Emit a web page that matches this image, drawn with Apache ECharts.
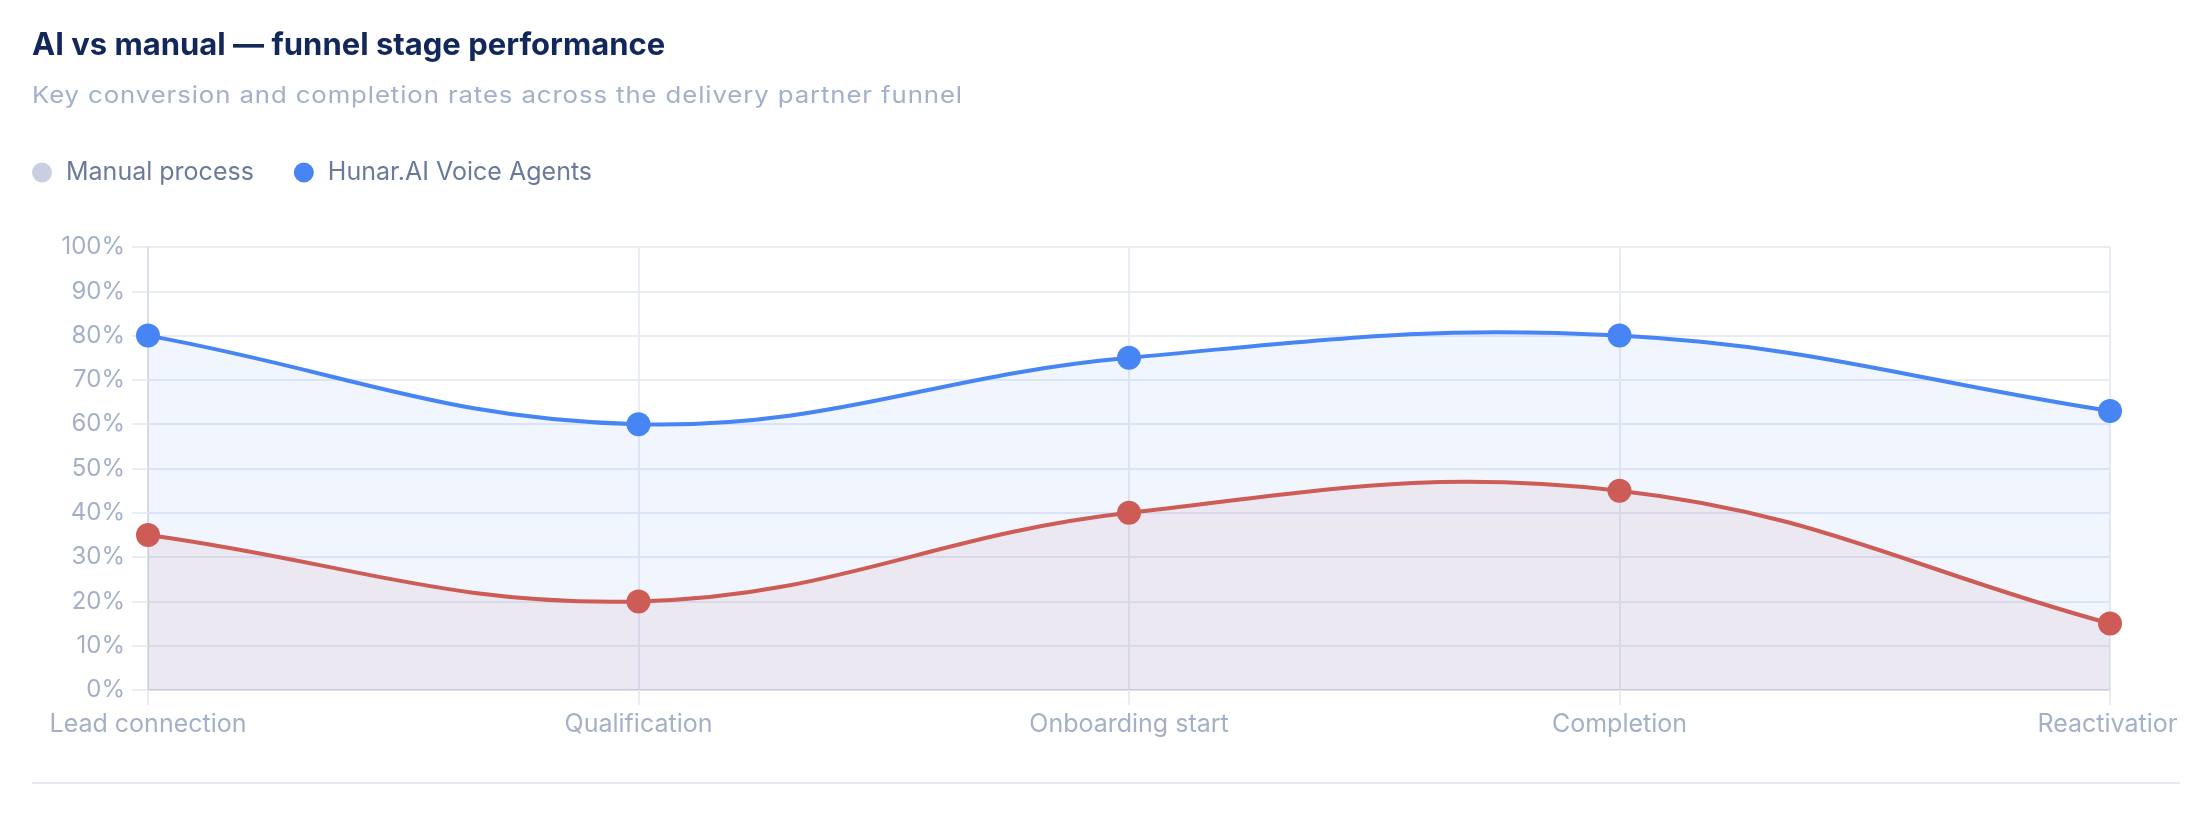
<!DOCTYPE html>
<html>
<head>
<meta charset="utf-8">
<script src="https://cdn.jsdelivr.net/npm/echarts@6/dist/echarts.min.js"></script>
<style>
html,body{margin:0;padding:0;background:#fff;}
#chart{position:absolute;left:32px;top:0;width:2145px;height:814px;overflow:hidden;}
#subtitle{position:absolute;left:32px;top:84px;margin:0;font-family:Inter,"Noto Sans",sans-serif;
  font-size:23px;line-height:23px;letter-spacing:0.8px;color:#a3b0ca;white-space:nowrap;z-index:2;
  transform:scaleX(1.12);transform-origin:0 50%;}
#sep{position:absolute;left:32px;top:782px;width:2148px;height:2px;background:#e4e9f2;z-index:2;}
</style>
</head>
<body>
<div id="chart"></div>
<p id="subtitle"></p>
<div id="sep"></div>
<script>
const titleText = 'AI vs manual — funnel stage performance';
const subtitleText = 'Key conversion and completion rates across the delivery partner funnel';
const categories = ['Lead connection', 'Qualification', 'Onboarding start', 'Completion', 'Reactivation'];
const manualName = 'Manual process';
const aiName = 'Hunar.AI Voice Agents';
const manualValues = [35, 20, 40, 45, 15];
const aiValues = [80, 60, 75, 80, 63];

document.getElementById('subtitle').textContent = subtitleText;

const FONT = 'Inter, "Noto Sans", sans-serif';
const TENSION = 0.4;

// Cardinal-style spline through pixel points (control points from neighbours)
function splinePath(pts, t) {
  const cps = pts.map((p, i) => {
    const prev = pts[i - 1] || p, next = pts[i + 1] || p;
    const d01 = Math.hypot(p[0] - prev[0], p[1] - prev[1]);
    const d12 = Math.hypot(next[0] - p[0], next[1] - p[1]);
    let s01 = d01 / (d01 + d12), s12 = d12 / (d01 + d12);
    if (isNaN(s01)) s01 = 0;
    if (isNaN(s12)) s12 = 0;
    const fa = t * s01, fb = t * s12;
    return {
      prev: [p[0] - fa * (next[0] - prev[0]), p[1] - fa * (next[1] - prev[1])],
      next: [p[0] + fb * (next[0] - prev[0]), p[1] + fb * (next[1] - prev[1])]
    };
  });
  let d = 'M' + pts[0][0] + ',' + pts[0][1];
  for (let i = 1; i < pts.length; i++) {
    d += ' C' + cps[i - 1].next.join(',') + ' ' + cps[i].prev.join(',') + ' ' + pts[i].join(',');
  }
  return d;
}

function curveSeries(name, values, color, areaColor, z) {
  return {
    name: name, type: 'custom', z: z, silent: true,
    data: values.map((v, i) => [i, v]),
    encode: {x: 0, y: 1},
    renderItem: function (params, api) {
      if (params.dataIndex !== 0) return null;
      const pts = values.map((v, i) => api.coord([i, v]));
      const base = api.coord([0, 0])[1];
      const line = splinePath(pts, TENSION);
      const area = line + ' L' + pts[pts.length - 1][0] + ',' + base + ' L' + pts[0][0] + ',' + base + ' Z';
      return {
        type: 'group',
        children: [
          {type: 'path', shape: {pathData: area}, style: {fill: areaColor, stroke: null}},
          {type: 'path', shape: {pathData: line}, style: {fill: null, stroke: color, lineWidth: 4}}
        ]
      };
    }
  };
}

function markerSeries(name, values, color) {
  return {
    name: name, type: 'line', data: values, z: 10,
    symbol: 'circle', symbolSize: 24,
    itemStyle: {color: color},
    lineStyle: {width: 0, opacity: 0}
  };
}

const chart = echarts.init(document.getElementById('chart'));
chart.setOption({
  backgroundColor: '#ffffff',
  animation: false,
  title: {text: titleText, left: 0, top: 30, padding: 0,
    textStyle: {fontFamily: FONT, fontSize: 31, fontWeight: 700, color: '#12275a'}},
  legend: {
    left: 0, top: 160, padding: 0, icon: 'circle', itemWidth: 20, itemHeight: 20, itemGap: 40,
    textStyle: {fontFamily: FONT, fontSize: 25, color: '#6b7a9b', padding: [0, 0, 0, 9]},
    data: [
      {name: manualName, itemStyle: {color: '#c8cfe0'}},
      {name: aiName, itemStyle: {color: '#4785f4'}}
    ]
  },
  grid: {left: 116, right: 67, top: 247, bottom: 124, containLabel: false, outerBoundsMode: 'none'},
  xAxis: {
    type: 'category', boundaryGap: false, data: categories,
    axisLine: {show: true, lineStyle: {color: '#d9dee9', width: 2}},
    axisTick: {show: true, length: 15, lineStyle: {color: '#e8edf5', width: 2}},
    axisLabel: {fontFamily: FONT, fontSize: 25, color: '#a3b0c8', margin: 22},
    splitLine: {show: true, lineStyle: {color: '#e8edf5', width: 2}}
  },
  yAxis: {
    type: 'value', min: 0, max: 100, interval: 10,
    axisLine: {show: true, lineStyle: {color: '#d9dee9', width: 2}},
    axisTick: {show: true, length: 16, lineStyle: {color: '#e8edf5', width: 2}},
    axisLabel: {fontFamily: FONT, fontSize: 24, color: '#a3b0c8', margin: 23, formatter: '{value}%'},
    splitLine: {show: true, lineStyle: {color: '#e8edf5', width: 2}}
  },
  series: [
    curveSeries(aiName, aiValues, '#4785f4', 'rgba(71,133,244,0.08)', 2),
    curveSeries(manualName, manualValues, '#cd5c56', 'rgba(178,95,104,0.08)', 3),
    markerSeries(aiName, aiValues, '#4785f4'),
    markerSeries(manualName, manualValues, '#cd5c56')
  ]
});
</script>
</body>
</html>
